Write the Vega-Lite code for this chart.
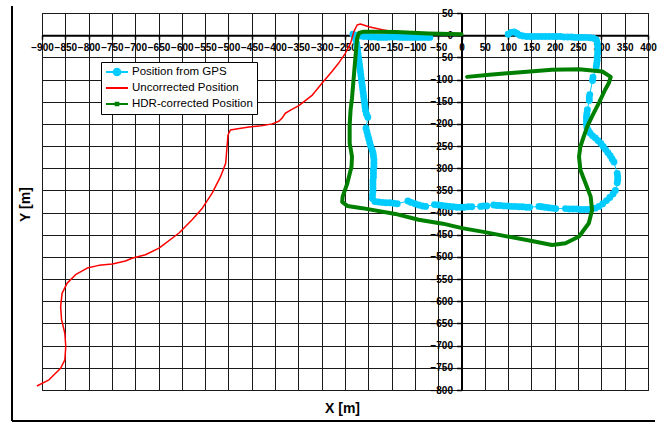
{
  "$schema": "https://vega.github.io/schema/vega-lite/v6.json",
  "width": 606,
  "height": 377,
  "autosize": "none",
  "padding": {"left": 42, "top": 13, "right": 15, "bottom": 33},
  "background": "white",
  "config": {
    "view": {"stroke": "black", "strokeWidth": 1},
    "font": "Liberation Sans"
  },
  "data": {"values": [
    {"s":"Position from GPS","i":1,"x":100,"y":2},{"s":"Position from GPS","i":2,"x":106,"y":6},{"s":"Position from GPS","i":3,"x":113,"y":7},{"s":"Position from GPS","i":4,"x":119,"y":4},{"s":"Position from GPS","i":5,"x":125,"y":0},{"s":"Position from GPS","i":6,"x":132,"y":-2},{"s":"Position from GPS","i":7,"x":140,"y":-3},{"s":"Position from GPS","i":8,"x":148,"y":-3},{"s":"Position from GPS","i":9,"x":156,"y":-3},{"s":"Position from GPS","i":10,"x":164,"y":-3},
    {"s":"Position from GPS","i":11,"x":172,"y":-3},{"s":"Position from GPS","i":12,"x":180,"y":-3},{"s":"Position from GPS","i":13,"x":188,"y":-3},{"s":"Position from GPS","i":14,"x":196,"y":-3},{"s":"Position from GPS","i":15,"x":204,"y":-3},{"s":"Position from GPS","i":16,"x":212,"y":-3},{"s":"Position from GPS","i":17,"x":220,"y":-4},{"s":"Position from GPS","i":18,"x":228,"y":-4},{"s":"Position from GPS","i":19,"x":236,"y":-4},{"s":"Position from GPS","i":20,"x":244,"y":-5},
    {"s":"Position from GPS","i":21,"x":252,"y":-5},{"s":"Position from GPS","i":22,"x":260,"y":-5},{"s":"Position from GPS","i":23,"x":268,"y":-5},{"s":"Position from GPS","i":24,"x":276,"y":-6},{"s":"Position from GPS","i":25,"x":283,"y":-7},{"s":"Position from GPS","i":26,"x":289,"y":-10},{"s":"Position from GPS","i":27,"x":291,"y":-17},{"s":"Position from GPS","i":28,"x":292,"y":-25},{"s":"Position from GPS","i":29,"x":292,"y":-33},{"s":"Position from GPS","i":30,"x":292,"y":-41},
    {"s":"Position from GPS","i":31,"x":291,"y":-49},{"s":"Position from GPS","i":32,"x":291,"y":-57},{"s":"Position from GPS","i":33,"x":290,"y":-64},{"s":"Position from GPS","i":34,"x":289,"y":-71},{"s":"Position from GPS","i":35,"x":282,"y":-95},{"s":"Position from GPS","i":36,"x":281,"y":-102},{"s":"Position from GPS","i":37,"x":275,"y":-134},{"s":"Position from GPS","i":38,"x":274,"y":-141},{"s":"Position from GPS","i":39,"x":274,"y":-147},{"s":"Position from GPS","i":40,"x":270,"y":-168},
    {"s":"Position from GPS","i":41,"x":269,"y":-176},{"s":"Position from GPS","i":42,"x":268,"y":-184},{"s":"Position from GPS","i":43,"x":268,"y":-192},{"s":"Position from GPS","i":44,"x":268,"y":-200},{"s":"Position from GPS","i":45,"x":269,"y":-208},{"s":"Position from GPS","i":46,"x":272,"y":-215},{"s":"Position from GPS","i":47,"x":276,"y":-221},{"s":"Position from GPS","i":48,"x":281,"y":-227},{"s":"Position from GPS","i":49,"x":287,"y":-232},{"s":"Position from GPS","i":50,"x":293,"y":-238},
    {"s":"Position from GPS","i":51,"x":299,"y":-244},{"s":"Position from GPS","i":52,"x":304,"y":-251},{"s":"Position from GPS","i":53,"x":309,"y":-258},{"s":"Position from GPS","i":54,"x":314,"y":-265},{"s":"Position from GPS","i":55,"x":319,"y":-272},{"s":"Position from GPS","i":56,"x":323,"y":-279},{"s":"Position from GPS","i":57,"x":327,"y":-286},{"s":"Position from GPS","i":58,"x":334,"y":-312},{"s":"Position from GPS","i":59,"x":335,"y":-319},{"s":"Position from GPS","i":60,"x":335,"y":-326},
    {"s":"Position from GPS","i":61,"x":334,"y":-333},{"s":"Position from GPS","i":62,"x":330,"y":-350},{"s":"Position from GPS","i":63,"x":325,"y":-358},{"s":"Position from GPS","i":64,"x":318,"y":-366},{"s":"Position from GPS","i":65,"x":311,"y":-373},{"s":"Position from GPS","i":66,"x":303,"y":-380},{"s":"Position from GPS","i":67,"x":295,"y":-386},{"s":"Position from GPS","i":68,"x":287,"y":-390},{"s":"Position from GPS","i":69,"x":279,"y":-392},{"s":"Position from GPS","i":70,"x":271,"y":-393},
    {"s":"Position from GPS","i":71,"x":263,"y":-393},{"s":"Position from GPS","i":72,"x":255,"y":-393},{"s":"Position from GPS","i":73,"x":247,"y":-392},{"s":"Position from GPS","i":74,"x":239,"y":-392},{"s":"Position from GPS","i":75,"x":231,"y":-392},{"s":"Position from GPS","i":76,"x":223,"y":-391},{"s":"Position from GPS","i":77,"x":202,"y":-391},{"s":"Position from GPS","i":78,"x":195,"y":-390},{"s":"Position from GPS","i":79,"x":187,"y":-389},{"s":"Position from GPS","i":80,"x":179,"y":-388},
    {"s":"Position from GPS","i":81,"x":172,"y":-387},{"s":"Position from GPS","i":82,"x":166,"y":-386},{"s":"Position from GPS","i":83,"x":146,"y":-388},{"s":"Position from GPS","i":84,"x":139,"y":-388},{"s":"Position from GPS","i":85,"x":131,"y":-387},{"s":"Position from GPS","i":86,"x":123,"y":-387},{"s":"Position from GPS","i":87,"x":115,"y":-386},{"s":"Position from GPS","i":88,"x":107,"y":-386},{"s":"Position from GPS","i":89,"x":99,"y":-385},{"s":"Position from GPS","i":90,"x":91,"y":-385},
    {"s":"Position from GPS","i":91,"x":83,"y":-384},{"s":"Position from GPS","i":92,"x":76,"y":-384},{"s":"Position from GPS","i":93,"x":69,"y":-383},{"s":"Position from GPS","i":94,"x":54,"y":-385},{"s":"Position from GPS","i":95,"x":47,"y":-385},{"s":"Position from GPS","i":96,"x":41,"y":-386},{"s":"Position from GPS","i":97,"x":22,"y":-387},{"s":"Position from GPS","i":98,"x":14,"y":-387},{"s":"Position from GPS","i":99,"x":6,"y":-388},{"s":"Position from GPS","i":100,"x":-2,"y":-388},
    {"s":"Position from GPS","i":101,"x":-10,"y":-388},{"s":"Position from GPS","i":102,"x":-18,"y":-387},{"s":"Position from GPS","i":103,"x":-26,"y":-386},{"s":"Position from GPS","i":104,"x":-34,"y":-385},{"s":"Position from GPS","i":105,"x":-42,"y":-384},{"s":"Position from GPS","i":106,"x":-50,"y":-383},{"s":"Position from GPS","i":107,"x":-58,"y":-382},{"s":"Position from GPS","i":108,"x":-77,"y":-386},{"s":"Position from GPS","i":109,"x":-84,"y":-385},{"s":"Position from GPS","i":110,"x":-92,"y":-383},
    {"s":"Position from GPS","i":111,"x":-100,"y":-380},{"s":"Position from GPS","i":112,"x":-108,"y":-377},{"s":"Position from GPS","i":113,"x":-115,"y":-374},{"s":"Position from GPS","i":114,"x":-138,"y":-380},{"s":"Position from GPS","i":115,"x":-146,"y":-379},{"s":"Position from GPS","i":116,"x":-154,"y":-378},{"s":"Position from GPS","i":117,"x":-162,"y":-378},{"s":"Position from GPS","i":118,"x":-170,"y":-377},{"s":"Position from GPS","i":119,"x":-178,"y":-376},{"s":"Position from GPS","i":120,"x":-186,"y":-375},
    {"s":"Position from GPS","i":121,"x":-191,"y":-368},{"s":"Position from GPS","i":122,"x":-191,"y":-360},{"s":"Position from GPS","i":123,"x":-190,"y":-352},{"s":"Position from GPS","i":124,"x":-190,"y":-344},{"s":"Position from GPS","i":125,"x":-190,"y":-336},{"s":"Position from GPS","i":126,"x":-190,"y":-328},{"s":"Position from GPS","i":127,"x":-189,"y":-320},{"s":"Position from GPS","i":128,"x":-189,"y":-312},{"s":"Position from GPS","i":129,"x":-189,"y":-304},{"s":"Position from GPS","i":130,"x":-188,"y":-296},
    {"s":"Position from GPS","i":131,"x":-188,"y":-288},{"s":"Position from GPS","i":132,"x":-188,"y":-280},{"s":"Position from GPS","i":133,"x":-189,"y":-272},{"s":"Position from GPS","i":134,"x":-190,"y":-265},{"s":"Position from GPS","i":135,"x":-192,"y":-258},{"s":"Position from GPS","i":136,"x":-195,"y":-250},{"s":"Position from GPS","i":137,"x":-197,"y":-242},{"s":"Position from GPS","i":138,"x":-199,"y":-234},{"s":"Position from GPS","i":139,"x":-201,"y":-226},{"s":"Position from GPS","i":140,"x":-203,"y":-218},
    {"s":"Position from GPS","i":141,"x":-205,"y":-210},{"s":"Position from GPS","i":142,"x":-201,"y":-185},{"s":"Position from GPS","i":143,"x":-204,"y":-178},{"s":"Position from GPS","i":144,"x":-206,"y":-170},{"s":"Position from GPS","i":145,"x":-207,"y":-162},{"s":"Position from GPS","i":146,"x":-208,"y":-154},{"s":"Position from GPS","i":147,"x":-209,"y":-146},{"s":"Position from GPS","i":148,"x":-210,"y":-138},{"s":"Position from GPS","i":149,"x":-211,"y":-130},{"s":"Position from GPS","i":150,"x":-212,"y":-122},
    {"s":"Position from GPS","i":151,"x":-213,"y":-114},{"s":"Position from GPS","i":152,"x":-214,"y":-106},{"s":"Position from GPS","i":153,"x":-215,"y":-98},{"s":"Position from GPS","i":154,"x":-216,"y":-90},{"s":"Position from GPS","i":155,"x":-217,"y":-82},{"s":"Position from GPS","i":156,"x":-218,"y":-74},{"s":"Position from GPS","i":157,"x":-219,"y":-66},{"s":"Position from GPS","i":158,"x":-220,"y":-58},{"s":"Position from GPS","i":159,"x":-221,"y":-50},{"s":"Position from GPS","i":160,"x":-222,"y":-42},
    {"s":"Position from GPS","i":161,"x":-223,"y":-34},{"s":"Position from GPS","i":162,"x":-224,"y":-26},{"s":"Position from GPS","i":163,"x":-225,"y":-18},{"s":"Position from GPS","i":164,"x":-227,"y":-10},{"s":"Position from GPS","i":165,"x":-230,"y":-3},{"s":"Position from GPS","i":166,"x":-233,"y":2},{"s":"Position from GPS","i":167,"x":-226,"y":0},{"s":"Position from GPS","i":168,"x":-218,"y":-2},{"s":"Position from GPS","i":169,"x":-210,"y":-3},{"s":"Position from GPS","i":170,"x":-202,"y":-3},
    {"s":"Position from GPS","i":171,"x":-194,"y":-4},{"s":"Position from GPS","i":172,"x":-186,"y":-4},{"s":"Position from GPS","i":173,"x":-178,"y":-5},{"s":"Position from GPS","i":174,"x":-170,"y":-5},{"s":"Position from GPS","i":175,"x":-162,"y":-5},{"s":"Position from GPS","i":176,"x":-154,"y":-4},{"s":"Position from GPS","i":177,"x":-146,"y":-4},{"s":"Position from GPS","i":178,"x":-138,"y":-4},{"s":"Position from GPS","i":179,"x":-130,"y":-5},{"s":"Position from GPS","i":180,"x":-122,"y":-5},
    {"s":"Position from GPS","i":181,"x":-114,"y":-5},{"s":"Position from GPS","i":182,"x":-106,"y":-5},{"s":"Position from GPS","i":183,"x":-98,"y":-5},{"s":"Position from GPS","i":184,"x":-90,"y":-5},{"s":"Position from GPS","i":185,"x":-82,"y":-5},{"s":"Position from GPS","i":186,"x":-74,"y":-5},{"s":"Position from GPS","i":187,"x":-68,"y":-5},

    {"s":"Uncorrected Position","i":1,"x":-911,"y":-791},{"s":"Uncorrected Position","i":2,"x":-885,"y":-777},{"s":"Uncorrected Position","i":3,"x":-860,"y":-751},{"s":"Uncorrected Position","i":4,"x":-851,"y":-732},{"s":"Uncorrected Position","i":5,"x":-849,"y":-702},{"s":"Uncorrected Position","i":6,"x":-851,"y":-672},{"s":"Uncorrected Position","i":7,"x":-858,"y":-642},{"s":"Uncorrected Position","i":8,"x":-860,"y":-612},{"s":"Uncorrected Position","i":9,"x":-857,"y":-582},{"s":"Uncorrected Position","i":10,"x":-846,"y":-559},
    {"s":"Uncorrected Position","i":11,"x":-828,"y":-540},{"s":"Uncorrected Position","i":12,"x":-803,"y":-525},{"s":"Uncorrected Position","i":13,"x":-778,"y":-519},{"s":"Uncorrected Position","i":14,"x":-749,"y":-516},{"s":"Uncorrected Position","i":15,"x":-721,"y":-509},{"s":"Uncorrected Position","i":16,"x":-707,"y":-503},{"s":"Uncorrected Position","i":17,"x":-678,"y":-495},{"s":"Uncorrected Position","i":18,"x":-649,"y":-480},{"s":"Uncorrected Position","i":19,"x":-606,"y":-446},{"s":"Uncorrected Position","i":20,"x":-578,"y":-416},
    {"s":"Uncorrected Position","i":21,"x":-556,"y":-390},{"s":"Uncorrected Position","i":22,"x":-535,"y":-356},{"s":"Uncorrected Position","i":23,"x":-517,"y":-319},{"s":"Uncorrected Position","i":24,"x":-506,"y":-289},{"s":"Uncorrected Position","i":25,"x":-503,"y":-251},{"s":"Uncorrected Position","i":26,"x":-501,"y":-225},{"s":"Uncorrected Position","i":27,"x":-496,"y":-214},{"s":"Uncorrected Position","i":28,"x":-480,"y":-211},{"s":"Uncorrected Position","i":29,"x":-456,"y":-207},{"s":"Uncorrected Position","i":30,"x":-430,"y":-204},
    {"s":"Uncorrected Position","i":31,"x":-406,"y":-200},{"s":"Uncorrected Position","i":32,"x":-392,"y":-194},{"s":"Uncorrected Position","i":33,"x":-385,"y":-187},{"s":"Uncorrected Position","i":34,"x":-378,"y":-176},{"s":"Uncorrected Position","i":35,"x":-365,"y":-168},{"s":"Uncorrected Position","i":36,"x":-349,"y":-159},{"s":"Uncorrected Position","i":37,"x":-320,"y":-135},{"s":"Uncorrected Position","i":38,"x":-299,"y":-108},{"s":"Uncorrected Position","i":39,"x":-278,"y":-82},{"s":"Uncorrected Position","i":40,"x":-263,"y":-62},
    {"s":"Uncorrected Position","i":41,"x":-250,"y":-42},{"s":"Uncorrected Position","i":42,"x":-238,"y":-18},{"s":"Uncorrected Position","i":43,"x":-231,"y":8},{"s":"Uncorrected Position","i":44,"x":-224,"y":23},{"s":"Uncorrected Position","i":45,"x":-217,"y":25},{"s":"Uncorrected Position","i":46,"x":-199,"y":19},{"s":"Uncorrected Position","i":47,"x":-170,"y":12},{"s":"Uncorrected Position","i":48,"x":-142,"y":7},

    {"s":"HDR-corrected Position","i":1,"x":12,"y":-94},{"s":"HDR-corrected Position","i":2,"x":60,"y":-89},{"s":"HDR-corrected Position","i":3,"x":120,"y":-84},{"s":"HDR-corrected Position","i":4,"x":194,"y":-78},{"s":"HDR-corrected Position","i":5,"x":252,"y":-77},{"s":"HDR-corrected Position","i":6,"x":302,"y":-82},{"s":"HDR-corrected Position","i":7,"x":320,"y":-94},{"s":"HDR-corrected Position","i":8,"x":316,"y":-108},{"s":"HDR-corrected Position","i":9,"x":308,"y":-123},{"s":"HDR-corrected Position","i":10,"x":295,"y":-152},
    {"s":"HDR-corrected Position","i":11,"x":280,"y":-183},{"s":"HDR-corrected Position","i":12,"x":270,"y":-205},{"s":"HDR-corrected Position","i":13,"x":262,"y":-229},{"s":"HDR-corrected Position","i":14,"x":255,"y":-251},{"s":"HDR-corrected Position","i":15,"x":252,"y":-274},{"s":"HDR-corrected Position","i":16,"x":255,"y":-304},{"s":"HDR-corrected Position","i":17,"x":266,"y":-334},{"s":"HDR-corrected Position","i":18,"x":277,"y":-364},{"s":"HDR-corrected Position","i":19,"x":280,"y":-394},{"s":"HDR-corrected Position","i":20,"x":273,"y":-424},
    {"s":"HDR-corrected Position","i":21,"x":252,"y":-454},{"s":"HDR-corrected Position","i":22,"x":223,"y":-469},{"s":"HDR-corrected Position","i":23,"x":194,"y":-473},{"s":"HDR-corrected Position","i":24,"x":151,"y":-464},{"s":"HDR-corrected Position","i":25,"x":94,"y":-453},{"s":"HDR-corrected Position","i":26,"x":50,"y":-444},{"s":"HDR-corrected Position","i":27,"x":1,"y":-435},{"s":"HDR-corrected Position","i":28,"x":-40,"y":-425},{"s":"HDR-corrected Position","i":29,"x":-92,"y":-416},{"s":"HDR-corrected Position","i":30,"x":-142,"y":-403},
    {"s":"HDR-corrected Position","i":31,"x":-213,"y":-390},{"s":"HDR-corrected Position","i":32,"x":-245,"y":-385},{"s":"HDR-corrected Position","i":33,"x":-256,"y":-376},{"s":"HDR-corrected Position","i":34,"x":-255,"y":-364},{"s":"HDR-corrected Position","i":35,"x":-245,"y":-334},{"s":"HDR-corrected Position","i":36,"x":-236,"y":-296},{"s":"HDR-corrected Position","i":37,"x":-235,"y":-274},{"s":"HDR-corrected Position","i":38,"x":-238,"y":-255},{"s":"HDR-corrected Position","i":39,"x":-240,"y":-244},{"s":"HDR-corrected Position","i":40,"x":-240,"y":-202},
    {"s":"HDR-corrected Position","i":41,"x":-238,"y":-168},{"s":"HDR-corrected Position","i":42,"x":-235,"y":-142},{"s":"HDR-corrected Position","i":43,"x":-229,"y":-67},{"s":"HDR-corrected Position","i":44,"x":-224,"y":-7},{"s":"HDR-corrected Position","i":45,"x":-220,"y":5},{"s":"HDR-corrected Position","i":46,"x":-210,"y":8},{"s":"HDR-corrected Position","i":47,"x":-199,"y":8},{"s":"HDR-corrected Position","i":48,"x":-141,"y":7},{"s":"HDR-corrected Position","i":49,"x":-70,"y":4},{"s":"HDR-corrected Position","i":50,"x":0,"y":2}
  ]},
  "encoding": {
    "x": {
      "field": "x", "type": "quantitative",
      "scale": {"domain": [-900, 400], "nice": false, "zero": false},
      "axis": {
        "orient": "bottom", "offset": -354.8,
        "values": [-900,-850,-800,-750,-700,-650,-600,-550,-500,-450,-400,-350,-300,-250,-200,-150,-100,-50,0,50,100,150,200,250,300,350,400],
        "labelFont": "Liberation Sans", "labelFontSize": 10, "labelFontWeight": "bold", "labelColor": "black",
        "labelPadding": 3, "labelOverlap": false, "labelFlush": false, "labelBound": false,
        "domainColor": "black", "domainWidth": 2, "tickColor": "black", "tickSize": 4, "tickWidth": 1.5,
        "grid": true, "gridColor": "#1a1a1a", "gridWidth": 1, "gridOpacity": 1,
        "title": "X [m]", "titleFont": "Liberation Sans", "titleFontSize": 14, "titleFontWeight": "bold", "titleColor": "black",
        "titleX": 300, "titleY": 373, "titleAlign": "center", "titleBaseline": "middle"
      }
    },
    "y": {
      "field": "y", "type": "quantitative",
      "scale": {"domain": [-800, 50], "nice": false, "zero": false},
      "axis": {
        "orient": "left", "offset": -419.5,
        "values": [-800,-750,-700,-650,-600,-550,-500,-450,-400,-350,-300,-250,-200,-150,-100,-50,0,50],
        "labelFont": "Liberation Sans", "labelFontSize": 10, "labelFontWeight": "bold", "labelColor": "black",
        "labelPadding": 4, "labelOverlap": false, "labelFlush": false, "labelBound": false,
        "domainColor": "black", "domainWidth": 2, "tickColor": "black", "tickSize": 5, "tickWidth": 1.5,
        "grid": true, "gridColor": "#1a1a1a", "gridWidth": 1, "gridOpacity": 1,
        "title": "Y [m]", "titleFont": "Liberation Sans", "titleFontSize": 14, "titleFontWeight": "bold", "titleColor": "black",
        "titleX": -436, "titleY": 191, "titleAngle": -90, "titleAlign": "center", "titleBaseline": "middle"
      }
    }
  },
  "layer": [
    {
      "mark": {"type": "rule", "clip": false, "color": "black", "strokeWidth": 1.5},
      "encoding": {"x": {"datum": -964}, "y": {"datum": 64}, "y2": {"datum": -870}}
    },
    {
      "mark": {"type": "rule", "clip": false, "color": "black", "strokeWidth": 1.5},
      "encoding": {"x": {"datum": -964}, "x2": {"datum": 415}, "y": {"datum": -870}}
    },
    {
      "transform": [{"filter": "datum.s === 'Position from GPS'"}],
      "mark": {"type": "line", "clip": false, "strokeWidth": 1},
      "encoding": {
        "color": {"field": "s", "type": "nominal",
          "scale": {"domain": ["Position from GPS", "Uncorrected Position", "HDR-corrected Position"], "range": ["#00CCFF", "#FF0000", "#008000"]},
          "legend": {
            "orient": "none", "legendX": 59, "legendY": 49, "title": null,
            "strokeColor": "black", "fillColor": "white", "padding": 4, "cornerRadius": 0,
            "labelFont": "Liberation Sans", "labelFontSize": 11.5, "labelColor": "black", "labelOffset": 3,
            "symbolSize": 484, "clipHeight": 12, "rowPadding": 4, "symbolStrokeWidth": 2,
            "encode": {"symbols": {"update": {
              "shape": {"signal": "datum.value === 'Position from GPS' ? 'M-1,0H1M-0.3,0A0.3,0.3 0 1,0 0.3,0A0.3,0.3 0 1,0 -0.3,0Z' : (datum.value === 'HDR-corrected Position' ? 'M-1,0H1M-0.12,-0.12H0.12V0.12H-0.12Z' : 'M-1,0H1')"},
              "fill": {"signal": "datum.value === 'Position from GPS' ? '#00CCFF' : (datum.value === 'HDR-corrected Position' ? '#008000' : 'transparent')"},
              "stroke": {"signal": "datum.value === 'Position from GPS' ? '#00CCFF' : (datum.value === 'HDR-corrected Position' ? '#008000' : '#FF0000')"},
              "strokeWidth": {"value": 2},
              "opacity": {"value": 1}
            }}}
          }
        },
        "order": {"field": "i", "type": "quantitative"}
      }
    },
    {
      "transform": [{"filter": "datum.s === 'Position from GPS'"}],
      "mark": {"type": "point", "clip": false, "filled": true, "size": 48, "shape": "circle", "opacity": 1},
      "encoding": {
        "color": {"field": "s", "type": "nominal"}
      }
    },
    {
      "transform": [{"filter": "datum.s === 'Uncorrected Position'"}],
      "mark": {"type": "line", "clip": false, "strokeWidth": 1.5, "strokeJoin": "round"},
      "encoding": {
        "color": {"field": "s", "type": "nominal"},
        "order": {"field": "i", "type": "quantitative"}
      }
    },
    {
      "transform": [{"filter": "datum.s === 'HDR-corrected Position'"}],
      "mark": {"type": "line", "clip": false, "strokeWidth": 4, "strokeJoin": "round", "strokeCap": "round"},
      "encoding": {
        "color": {"field": "s", "type": "nominal"},
        "order": {"field": "i", "type": "quantitative"}
      }
    }
  ]
}
